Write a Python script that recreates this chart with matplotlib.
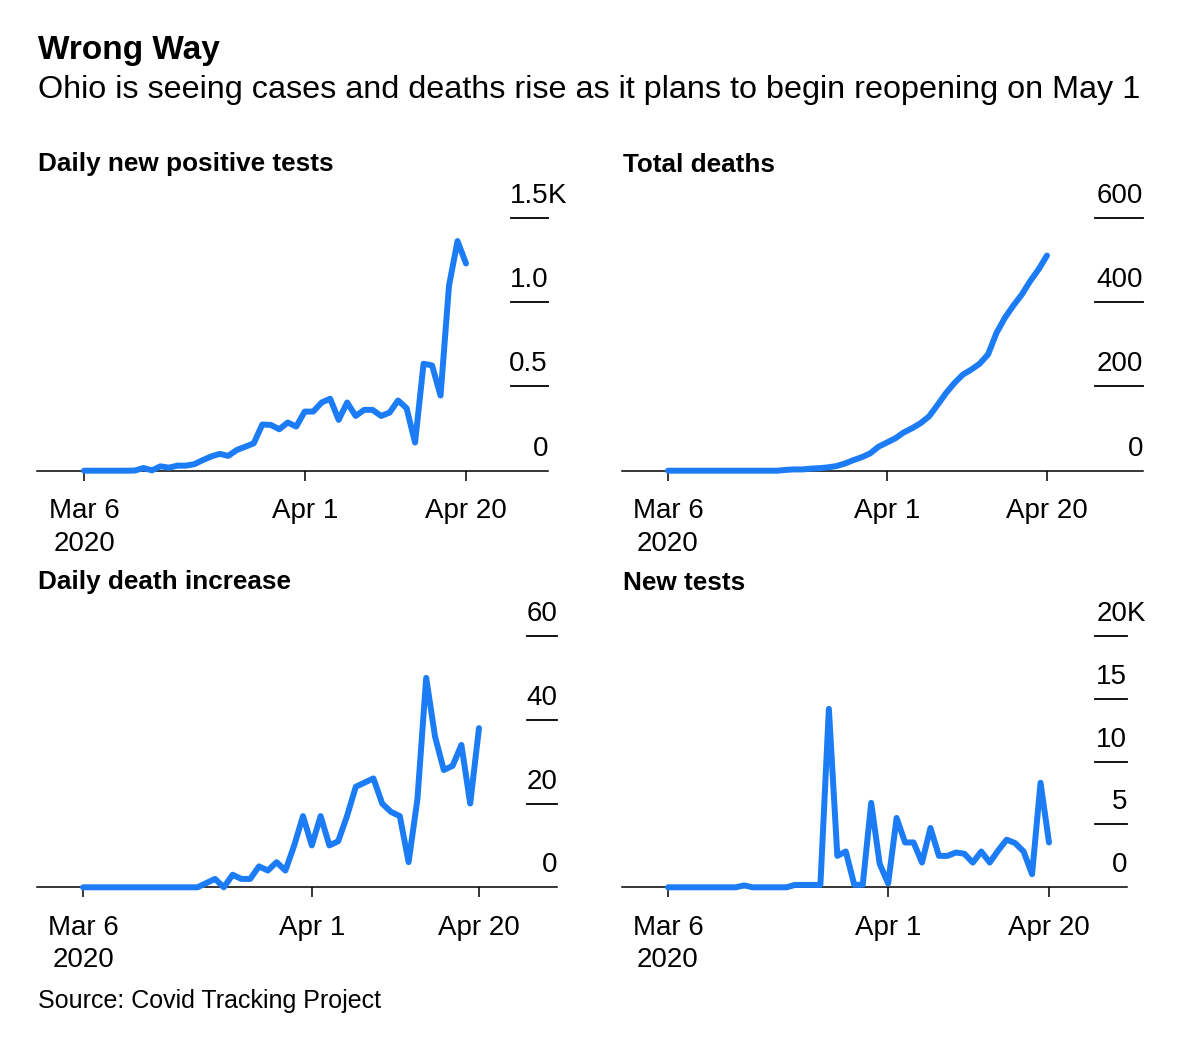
import numpy as np
import pandas as pd
import matplotlib
matplotlib.use('Agg')
import matplotlib.pyplot as plt
import matplotlib.dates as mdates
import matplotlib.transforms as mtransforms

plt.rcParams['font.family'] = ['Liberation Sans', 'DejaVu Sans']

# data (Mar 6 .. Apr 20, 2020)
dates = pd.date_range('2020-03-06', '2020-04-20', freq='D')

positive_tests = [0, 0, 0, 0, 0, 0, 1, 16, 2, 26,
                  18, 30, 30, 39, 63, 85, 100, 88, 123, 142,
                  163, 274, 272, 246, 286, 262, 351, 351, 405, 427,
                  302, 405, 325, 361, 361, 325, 345, 417, 371, 167,
                  635, 625, 446, 1099, 1363, 1230]

total_deaths = [0, 0, 0, 0, 0, 0, 0, 0, 0, 0,
                0, 0, 0, 0, 2, 3, 3, 5, 6, 8,
                11, 17, 25, 32, 41, 57, 67, 77, 91, 101,
                113, 129, 156, 184, 208, 228, 240, 254, 276, 327,
                363, 392, 418, 450, 478, 511]

daily_deaths = [0, 0, 0, 0, 0, 0, 0, 0, 0, 0,
                0, 0, 0, 0, 1, 2, 0, 3, 2, 2,
                5, 4, 6, 4, 10, 17, 10, 17, 10, 11,
                17, 24, 25, 26, 20, 18, 17, 6, 21, 50,
                36, 28, 29, 34, 20, 38]

new_tests = [0, 0, 0, 0, 0, 0, 0, 0, 0, 150,
             0, 0, 0, 0, 0, 190, 190, 190, 190, 14200,
             2500, 2850, 200, 200, 6720, 1870, 300, 5520, 3570, 3570,
             1970, 4720, 2500, 2500, 2770, 2670, 1970, 2850, 1970, 2930,
             3790, 3520, 2850, 1040, 8320, 3570]

x_ticks = [dates[0], dates[26], dates[45]]
x_labels = ['Mar 6\n2020', 'Apr 1', 'Apr 20']

pos_ticks = [0, 500, 1000, 1500]
pos_labels = ['0', '0.5', '1.0', '1.5']
deaths_ticks = [0, 200, 400, 600]
deaths_labels = ['0', '200', '400', '600']
daily_ticks = [0, 20, 40, 60]
daily_labels = ['0', '20', '40', '60']
tests_ticks = [0, 5000, 10000, 15000, 20000]
tests_labels = ['0', '5', '10', '15', '20']

W, H = 1200, 1045
BLUE = '#1b7cf6'
FS = 20

fig = plt.figure(figsize=(W / 100, H / 100), dpi=100)


def panel(box, d0, d45, vals, ticks, labels, tickw, title, suffix=''):
    l, r, top, bot = box
    ax = fig.add_axes([l / W, 1 - bot / H, (r - l) / W, (bot - top) / H])
    xn = mdates.date2num(dates)
    perday = (d45 - d0) / (len(dates) - 1)
    ax.set_xlim(xn[0] - (d0 - l) / perday, xn[0] + (r - d0) / perday)
    ax.set_ylim(0, ticks[-1])
    ax.plot(dates, vals, color=BLUE, lw=4.3, clip_on=False, zorder=3,
            solid_joinstyle='round', solid_capstyle='round')
    for s in ['top', 'left', 'right']:
        ax.spines[s].set_visible(False)
    ax.spines['bottom'].set_linewidth(1.1)
    ax.spines['bottom'].set_zorder(2)
    ax.set_xticks(x_ticks)
    ax.set_xticklabels(x_labels, fontsize=FS, linespacing=1.34)
    ax.tick_params(axis='x', length=7.2, width=1.1, pad=12.5)
    ax.set_yticks([])
    trans = mtransforms.blended_transform_factory(ax.transAxes, ax.transData)
    toff = mtransforms.offset_copy(trans, fig=fig, y=15, units='dots')
    for v, lab in zip(ticks, labels):
        if v != 0:
            ax.plot([1 - tickw / (r - l), 1], [v, v], transform=trans,
                    color='black', lw=1.3, clip_on=False)
        ax.text(1, v, lab, transform=toff, ha='right', va='baseline', fontsize=FS)
    if suffix:
        ax.text(1, ticks[-1], suffix, transform=toff, ha='left', va='baseline', fontsize=FS)
    fig.text(l / W + 1 / W, 1 - (top - 46.5) / H, title, fontsize=18.8,
             fontweight='bold', va='baseline')
    return ax


panel((37, 548, 218, 470.7), 84, 466, positive_tests, pos_ticks, pos_labels, 37,
      'Daily new positive tests', 'K')
panel((622, 1143, 218, 470.7), 668, 1047, total_deaths, deaths_ticks, deaths_labels, 48,
      'Total deaths')
panel((37, 557, 636, 887.3), 83, 479, daily_deaths, daily_ticks, daily_labels, 30,
      'Daily death increase')
panel((622, 1127, 636, 887.3), 668, 1049, new_tests, tests_ticks, tests_labels, 32,
      'New tests', 'K')

fig.text(38 / W, 1 - 59 / H, 'Wrong Way', fontsize=24, fontweight='bold', va='baseline')
fig.text(38 / W, 1 - 98 / H,
         'Ohio is seeing cases and deaths rise as it plans to begin reopening on May 1',
         fontsize=23.3, va='baseline')
fig.text(38 / W, 1 - 1008 / H, 'Source: Covid Tracking Project', fontsize=18, va='baseline')

fig.savefig('out.png', dpi=100, facecolor='white')
